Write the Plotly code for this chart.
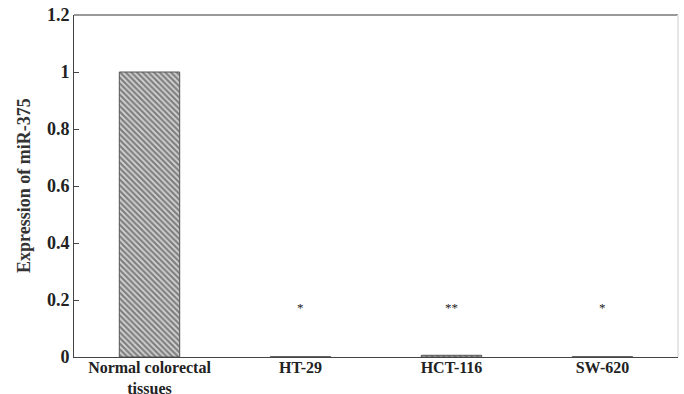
import plotly.graph_objects as go

categories = ["Normal colorectal<br>tissues", "HT-29", "HCT-116", "SW-620"]
expression = [1.0, 0.001, 0.006, 0.001]
significance = ["", "*", "**", "*"]
sig_y = [0.175, 0.175, 0.175, 0.175]
y_ticks = [0, 0.2, 0.4, 0.6, 0.8, 1, 1.2]

FONT = "Liberation Serif"

fig = go.Figure()
fig.add_trace(go.Bar(
    x=list(range(len(categories))), y=expression, width=0.4,
    marker=dict(color="white", line=dict(color="#555555", width=1),
                pattern=dict(shape="\\", fgcolor="#2a2a2a", bgcolor="#d8d8d8",
                             size=4, solidity=0.6)),
))
for i, (s, yy) in enumerate(zip(significance, sig_y)):
    if s:
        fig.add_annotation(x=i, y=yy, text=s, showarrow=False,
                           font=dict(family=FONT, size=13, color="#222222"))

fig.add_annotation(xref="paper", yref="paper", x=0, y=0.5, xshift=-50, xanchor="center", yanchor="middle",
                   text="<b>Expression of miR-375</b>", textangle=-90, showarrow=False,
                   font=dict(family=FONT, size=18, color="#333333"))

fig.update_layout(
    width=684, height=394, plot_bgcolor="white", paper_bgcolor="white",
    margin=dict(l=74, r=6, t=15, b=37, autoexpand=False), showlegend=False,
    font=dict(family=FONT, color="#222222"),
)
fig.update_xaxes(range=[-0.5, 3.5], tickvals=list(range(len(categories))),
                 ticktext=[f"<b>{c}</b>" for c in categories],
                 tickfont=dict(size=16, family=FONT, color="#222222"),
                 ticklabelstandoff=-4,
                 showline=True, linecolor="#444444", linewidth=1,
                 showgrid=False, ticks="", zeroline=False, automargin=False)
fig.update_yaxes(range=[0, 1.2], tickvals=y_ticks, ticktext=[f"<b>{t:g}</b>" for t in y_ticks],
                 tickfont=dict(size=18, family=FONT, color="#222222"),
                 showline=True, linecolor="#444444", linewidth=1,
                 ticks="inside", ticklen=5, tickcolor="#444444",
                 showgrid=False, zeroline=False, automargin=False)
# top and right frame lines
fig.add_shape(type="line", xref="paper", yref="paper", x0=0, x1=1, y0=1, y1=1, line=dict(color="#999999", width=2))
fig.add_shape(type="line", xref="paper", yref="paper", x0=1, x1=1, y0=0, y1=1, line=dict(color="#e6e6e6", width=2))

fig.write_html("out.html", config={"displayModeBar": False},
               post_script="document.body.style.margin='0';document.body.style.overflow='hidden';")
